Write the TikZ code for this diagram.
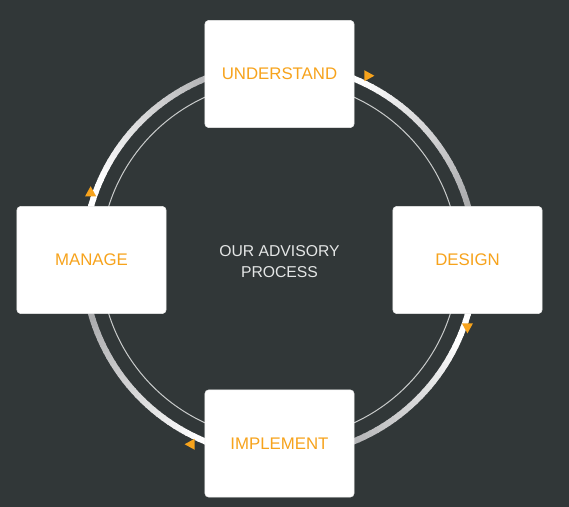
\documentclass[tikz,border=0pt]{standalone}
\usepackage{fontspec}
\setmainfont{Liberation Sans}
\usetikzlibrary{calc}
\definecolor{bg}{HTML}{313738}
\definecolor{accent}{HTML}{F7A31C}
\definecolor{ringend}{HTML}{A8A9AB}
\definecolor{thinring}{HTML}{C9CBCB}
\definecolor{titletext}{HTML}{E4E6E6}

\begin{document}
\begin{tikzpicture}[x=0.75pt,y=0.75pt,
        stagebox/.style={draw=white!85!gray, line width=0.4pt, fill=white, rounded corners=3pt,
            minimum width=112pt, minimum height=80.5pt, text=accent, font=\fontsize{12.6}{15}\selectfont},
        marker/.style={fill=accent},
        ring/.style={line width=4.5pt}]
        \fill[bg] (-279.5,-247) rectangle (289.5,260);
        \useasboundingbox (-279.5,-247) rectangle (289.5,260);

        \coordinate (orig) at (0,0);
        \coordinate (understand) at (0,186);
        \coordinate (design) at (188,0);
        \coordinate (implement) at (0,-183.5);
        \coordinate (manage) at (-188,0);
        \coordinate (tip_u) at (64:205);
        \coordinate (tip_d) at (-20:200);
        \coordinate (tip_i) at (-116:205);
        \coordinate (tip_m) at (160:201);

        % rings behind the boxes
        \path[draw, thinring, line width=0.75pt] (orig) circle[radius=179];
        \foreach \q in {0,-90,-180,-270}{
            \foreach \i in {0,...,34}{
                \pgfmathtruncatemacro{\shade}{max(0,min(100,(64-2*\i)*100/51))}
                \path[draw, ring, white!\shade!ringend] ($(orig)+(\q+80-\i*2:196)$)
                    arc[start angle=\q+80-\i*2, end angle=\q+80-\i*2-2.4, radius=196];
            }
        }

        \node[stagebox] (Understand) at (understand) {UNDERSTAND};
        \node[stagebox] (Design) at (design) {DESIGN};
        \node[stagebox] (Implement) at (implement) {IMPLEMENT};
        \node[stagebox] (Manage) at (manage) {MANAGE};
        \node[text=titletext, align=center, font=\fontsize{11.8}{15.75}\selectfont] (Title) at ($(orig)+(0,-2)$) {OUR ADVISORY\\PROCESS};

        \path[marker, shift={(tip_u)}] (-5,5.5) -- (5,0) -- (-5,-5.5) -- cycle;
        \path[marker, shift={(tip_d)}, rotate=-90] (-5,5.5) -- (5,0) -- (-5,-5.5) -- cycle;
        \path[marker, shift={(tip_i)}, rotate=180] (-5,5.5) -- (5,0) -- (-5,-5.5) -- cycle;
        \path[marker, shift={(tip_m)}, rotate=90] (-5,5.5) -- (5,0) -- (-5,-5.5) -- cycle;
    \end{tikzpicture}
\end{document}
